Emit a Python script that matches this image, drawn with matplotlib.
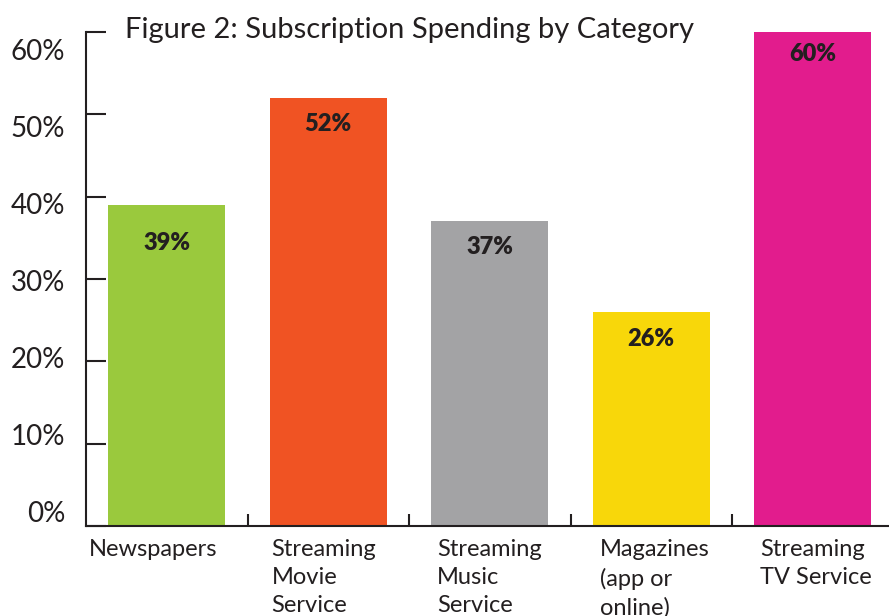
import matplotlib.pyplot as plt
from matplotlib.ticker import FixedLocator
from matplotlib.transforms import blended_transform_factory, offset_copy

plt.rcParams['font.family'] = ['Lato', 'DejaVu Sans']

categories = ['Newspapers', 'Streaming\nMovie\nService', 'Streaming\nMusic\nService',
              'Magazines\n(app or\nonline)', 'Streaming\nTV Service']
shares = [39, 52, 37, 26, 60]
colors = ['#9AC93D', '#F05323', '#A3A3A5', '#F8D70A', '#E21C8D']
yticks = [0, 10, 20, 30, 40, 50, 60]

ink = '#231F20'
bar_w = 0.725

fig = plt.figure(figsize=(8.89, 6.16), dpi=100)
ax = fig.add_axes([86 / 889, 1 - 526 / 616, 807.5 / 889, 494 / 616])

xs = range(len(categories))
ax.bar(xs, shares, width=bar_w, color=colors, zorder=2)

# value labels inside the top of each bar
label_drop = [4.6, 3.2, 3.1, 3.3, 2.7]
for x, v, d in zip(xs, shares, label_drop):
    ax.text(x, v - d, f'{v}%', ha='center', va='center', fontsize=17,
            fontweight='heavy', color=ink)

ax.set_xlim(-0.5, len(categories) - 0.5)
ax.set_ylim(0, 60)

for s in ['top', 'right']:
    ax.spines[s].set_visible(False)
for s in ['left', 'bottom']:
    ax.spines[s].set_color(ink)
    ax.spines[s].set_linewidth(1.5)

ax.yaxis.set_major_locator(FixedLocator(yticks))
ax.tick_params(axis='y', direction='in', length=14.5, width=1.5, color=ink,
               labelleft=False)

# y labels sit in their own evenly spaced column, a bit tighter than the ticks
ylab_tr = offset_copy(blended_transform_factory(ax.transAxes, ax.transData),
                      fig=fig, x=-21, y=0, units='dots')
for t in yticks:
    ax.text(0, 1.45 + t * 0.936, f'{t}%', transform=ylab_tr, ha='right',
            va='center', fontsize=20, color=ink)

# category separators on the x axis
ax.set_xticks([])
ax.set_xticks([i + 0.5 for i in range(len(categories) - 1)], minor=True)
ax.tick_params(axis='x', which='minor', direction='in', length=9, width=1.5, color=ink)

# category names, left-aligned under each bar
name_offset = [-0.12, 0.012, 0.037, 0.045, 0.037]
for x, name, off in zip(xs, categories, name_offset):
    ax.text(x - bar_w / 2 + off, -1.6, name, ha='left', va='top', fontsize=17,
            color=ink, linespacing=1.42)

fig.text(125 / 889, 1 - 30 / 616, 'Figure 2: Subscription Spending by Category',
         ha='left', va='center', fontsize=21, color=ink)

fig.savefig('out.png', dpi=100)
